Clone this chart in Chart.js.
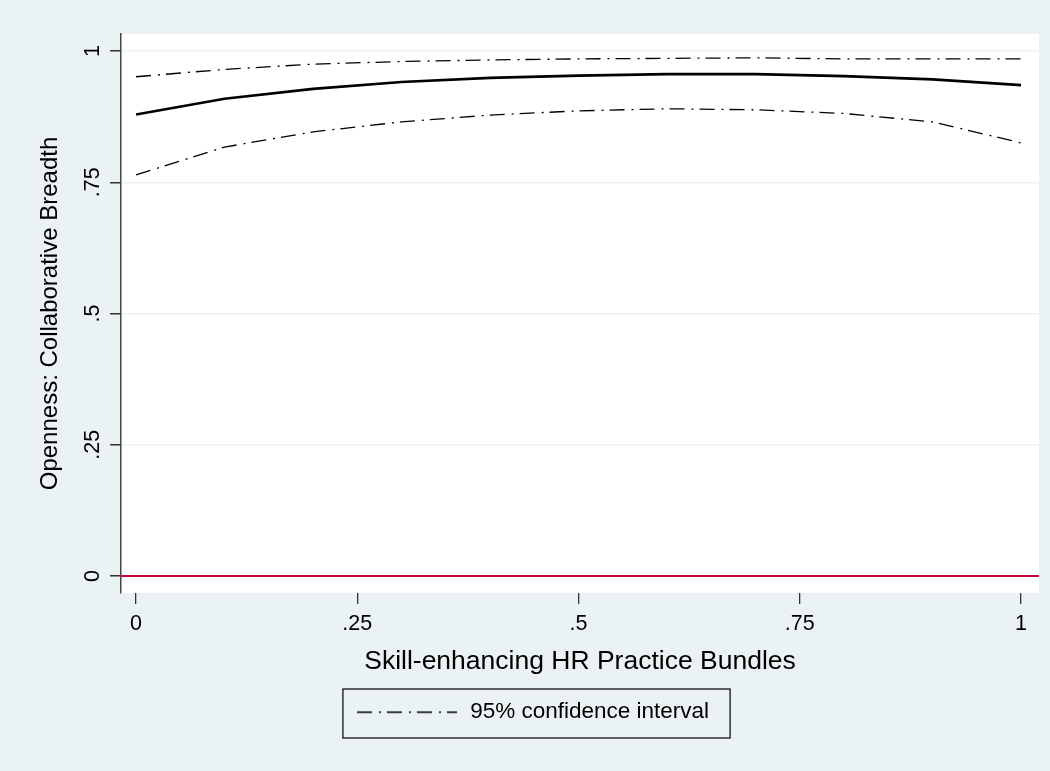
<!DOCTYPE html>
<html>
<head>
<meta charset="utf-8">
<script src="https://cdn.jsdelivr.net/npm/chart.js@4.4.1/dist/chart.umd.min.js"></script>
<style>
  html, body { margin: 0; padding: 0; background: #eaf2f3; }
  canvas { display: block; }
</style>
</head>
<body>
<canvas id="marginsChart" width="1050" height="771"></canvas>
<script>
// values
const bundleLevels = [0, 0.1, 0.2, 0.3, 0.4, 0.5, 0.6, 0.7, 0.8, 0.9, 1];
const fittedValues = [0.879, 0.909, 0.928, 0.941, 0.949, 0.953, 0.956, 0.956, 0.952, 0.946, 0.935];
const upperCI = [0.951, 0.965, 0.975, 0.980, 0.983, 0.985, 0.986, 0.987, 0.985, 0.985, 0.985];
const lowerCI = [0.764, 0.817, 0.846, 0.865, 0.878, 0.886, 0.890, 0.888, 0.881, 0.865, 0.825];
const xTickValues = [0, 0.25, 0.5, 0.75, 1];
const yTickValues = [0, 0.25, 0.5, 0.75, 1];

const FONT = "'Liberation Sans', Arial, sans-serif";
const BG = '#eaf2f3';
const dashDot = [15, 7, 2, 6];

function fmt(v) {
    if (v === 0) return '0';
    if (v === 1) return '1';
    return String(v).replace(/^0/, '');
}

function toPoints(ys) {
    return bundleLevels.map((x, i) => ({ x: x, y: ys[i] }));
}

// little dash-dot sample for the legend
const legendSample = document.createElement('canvas');
legendSample.width = 100;
legendSample.height = 4;
(function () {
    const c = legendSample.getContext('2d');
    c.strokeStyle = '#000';
    c.lineWidth = 1.3;
    c.setLineDash(dashDot);
    c.beginPath();
    c.moveTo(0, 2);
    c.lineTo(100, 2);
    c.stroke();
})();

// white plot region, zero line, rotated y labels, legend frame
const stataLook = {
    id: 'stataLook',
    afterLayout(chart) {
        chart.legend.left += 12.5;
        chart.legend.right += 12.5;
    },
    beforeDraw(chart) {
        const { ctx, chartArea } = chart;
        ctx.save();
        ctx.fillStyle = BG;
        ctx.fillRect(0, 0, chart.width, chart.height);
        ctx.fillStyle = '#ffffff';
        ctx.fillRect(chartArea.left, chartArea.top, chartArea.right - chartArea.left, chartArea.bottom - chartArea.top);
        ctx.restore();
    },
    beforeDatasetsDraw(chart) {
        const { ctx, chartArea } = chart;
        const y0 = chart.scales.y.getPixelForValue(0);
        ctx.save();
        ctx.strokeStyle = '#c10534';
        ctx.lineWidth = 2;
        ctx.beginPath();
        ctx.moveTo(chartArea.left, y0);
        ctx.lineTo(chartArea.right, y0);
        ctx.stroke();
        ctx.restore();
    },
    afterDraw(chart) {
        const { ctx } = chart;
        const ys = chart.scales.y;
        ctx.save();
        ctx.fillStyle = '#000';
        ctx.font = '21.5px ' + FONT;
        ctx.textAlign = 'center';
        ctx.textBaseline = 'middle';
        yTickValues.forEach(v => {
            const py = ys.getPixelForValue(v);
            ctx.save();
            ctx.translate(93, py);
            ctx.rotate(-Math.PI / 2);
            ctx.fillText(fmt(v), 0, 0);
            ctx.restore();
        });
        const hb = chart.legend.legendHitBoxes[0];
        if (hb) {
            ctx.strokeStyle = '#000';
            ctx.lineWidth = 1.2;
            ctx.strokeRect(hb.left - 12, hb.top - 12, hb.width + 33, hb.height + 26.5);
        }
        ctx.restore();
    }
};

const chart = new Chart(document.getElementById('marginsChart').getContext('2d'), {
    type: 'line',
    data: {
        datasets: [
            {
                label: 'Fitted',
                data: toPoints(fittedValues),
                borderColor: '#000',
                borderWidth: 2.7,
                pointRadius: 0,
                tension: 0
            },
            {
                label: '95% confidence interval',
                data: toPoints(upperCI),
                borderColor: '#000',
                borderWidth: 1.3,
                borderDash: dashDot,
                pointRadius: 0,
                tension: 0
            },
            {
                label: 'lower',
                data: toPoints(lowerCI),
                borderColor: '#000',
                borderWidth: 1.3,
                borderDash: dashDot,
                pointRadius: 0,
                tension: 0
            }
        ]
    },
    options: {
        responsive: false,
        animation: false,
        layout: { padding: { top: 34, right: 11, left: 0, bottom: 37.5 } },
        plugins: {
            tooltip: { enabled: false },
            legend: {
                position: 'bottom',
                labels: {
                    filter: item => item.datasetIndex === 1,
                    usePointStyle: true,
                    pointStyle: legendSample,
                    pointStyleWidth: 104,
                    padding: 10,
                    color: '#000',
                    font: { family: FONT, size: 22.5 }
                }
            }
        },
        scales: {
            x: {
                type: 'linear',
                min: -0.017,
                max: 1.0203,
                afterBuildTicks: s => { s.ticks = xTickValues.map(v => ({ value: v })); },
                afterFit: s => { s.height = 98; },
                border: { display: false },
                grid: { drawOnChartArea: false, tickLength: 11, tickColor: '#333', lineWidth: 1.3 },
                ticks: {
                    padding: 7,
                    color: '#000',
                    font: { family: FONT, size: 21.5 },
                    callback: v => fmt(v)
                },
                title: {
                    display: true,
                    text: 'Skill-enhancing HR Practice Bundles',
                    color: '#000',
                    font: { family: FONT, size: 26.5 },
                    padding: { top: 0, bottom: 13 }
                }
            },
            y: {
                type: 'linear',
                min: -0.0324,
                max: 1.0324,
                afterBuildTicks: s => { s.ticks = yTickValues.map(v => ({ value: v })); },
                afterFit: s => { s.width = 121; },
                border: { display: true, color: '#444', width: 1.5 },
                grid: { color: BG, lineWidth: 1.5, tickColor: '#333', tickLength: 11 },
                ticks: { display: false },
                title: {
                    display: true,
                    text: 'Openness: Collaborative Breadth',
                    color: '#000',
                    font: { family: FONT, size: 24 },
                    padding: { top: 36, bottom: 0 }
                }
            }
        }
    },
    plugins: [stataLook]
});
</script>
</body>
</html>
